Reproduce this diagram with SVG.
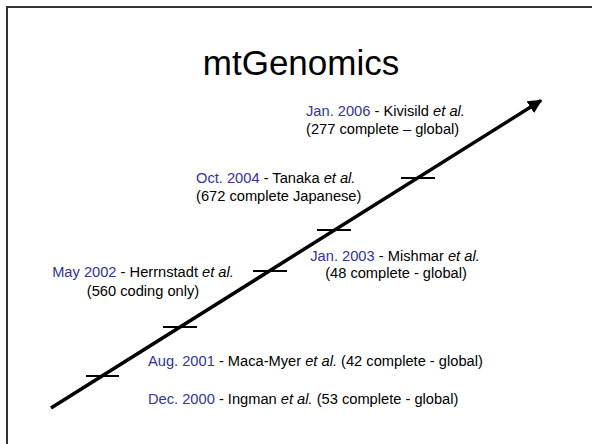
<svg xmlns="http://www.w3.org/2000/svg" width="592" height="444" viewBox="0 0 592 444">
<style>
text{font-family:"Liberation Sans",Arial,sans-serif;font-size:14.67px;fill:#000}
.d{fill:#333399}
.t{font-size:35px}
.tick{stroke:#000;stroke-width:2}
</style>
<defs>
<marker id="ah" viewBox="0 0 10 10" refX="9" refY="5" markerWidth="4" markerHeight="4" orient="auto" markerUnits="strokeWidth">
<path d="M0,0 L10,5 L0,10 z" fill="#000"/>
</marker>
</defs>
<rect x="7" y="7" width="600" height="460" fill="#fff" stroke="#333" stroke-width="2"/>
<g id="title"><text class="t" x="301" y="75" text-anchor="middle">mtGenomics</text></g>
<g id="connectors">
<line x1="51" y1="408" x2="541" y2="100.5" stroke="#000" stroke-width="3.5" marker-end="url(#ah)"/>
<line class="tick" x1="86" y1="376" x2="119" y2="376"/>
<line class="tick" x1="163" y1="327" x2="197" y2="327"/>
<line class="tick" x1="253" y1="271" x2="287" y2="271"/>
<line class="tick" x1="317" y1="230" x2="351" y2="230"/>
<line class="tick" x1="401" y1="178" x2="435" y2="178"/>
</g>
<g id="ingman"><text x="148" y="404"><tspan class="d">Dec. 2000</tspan> - Ingman <tspan font-style="italic">et al.</tspan> (53 complete - global)</text></g>
<g id="macamyer"><text x="148" y="366"><tspan class="d">Aug. 2001</tspan> - Maca-Myer <tspan font-style="italic">et al.</tspan> (42 complete - global)</text></g>
<g id="herrnstadt"><text x="143" y="277" text-anchor="middle"><tspan class="d">May 2002</tspan> - Herrnstadt <tspan font-style="italic">et al.</tspan></text><text x="143" y="296" text-anchor="middle">(560 coding only)</text></g>
<g id="mishmar"><text x="395" y="261" text-anchor="middle"><tspan class="d">Jan. 2003</tspan> - Mishmar <tspan font-style="italic">et al.</tspan></text><text x="396" y="278" text-anchor="middle">(48 complete - global)</text></g>
<g id="tanaka"><text x="196" y="183"><tspan class="d">Oct. 2004</tspan> - Tanaka <tspan font-style="italic">et al.</tspan></text><text x="196" y="201">(672 complete Japanese)</text></g>
<g id="kivisild"><text x="306" y="116"><tspan class="d">Jan. 2006</tspan> - Kivisild <tspan font-style="italic">et al.</tspan></text><text x="306" y="134">(277 complete – global)</text></g>
</svg>
